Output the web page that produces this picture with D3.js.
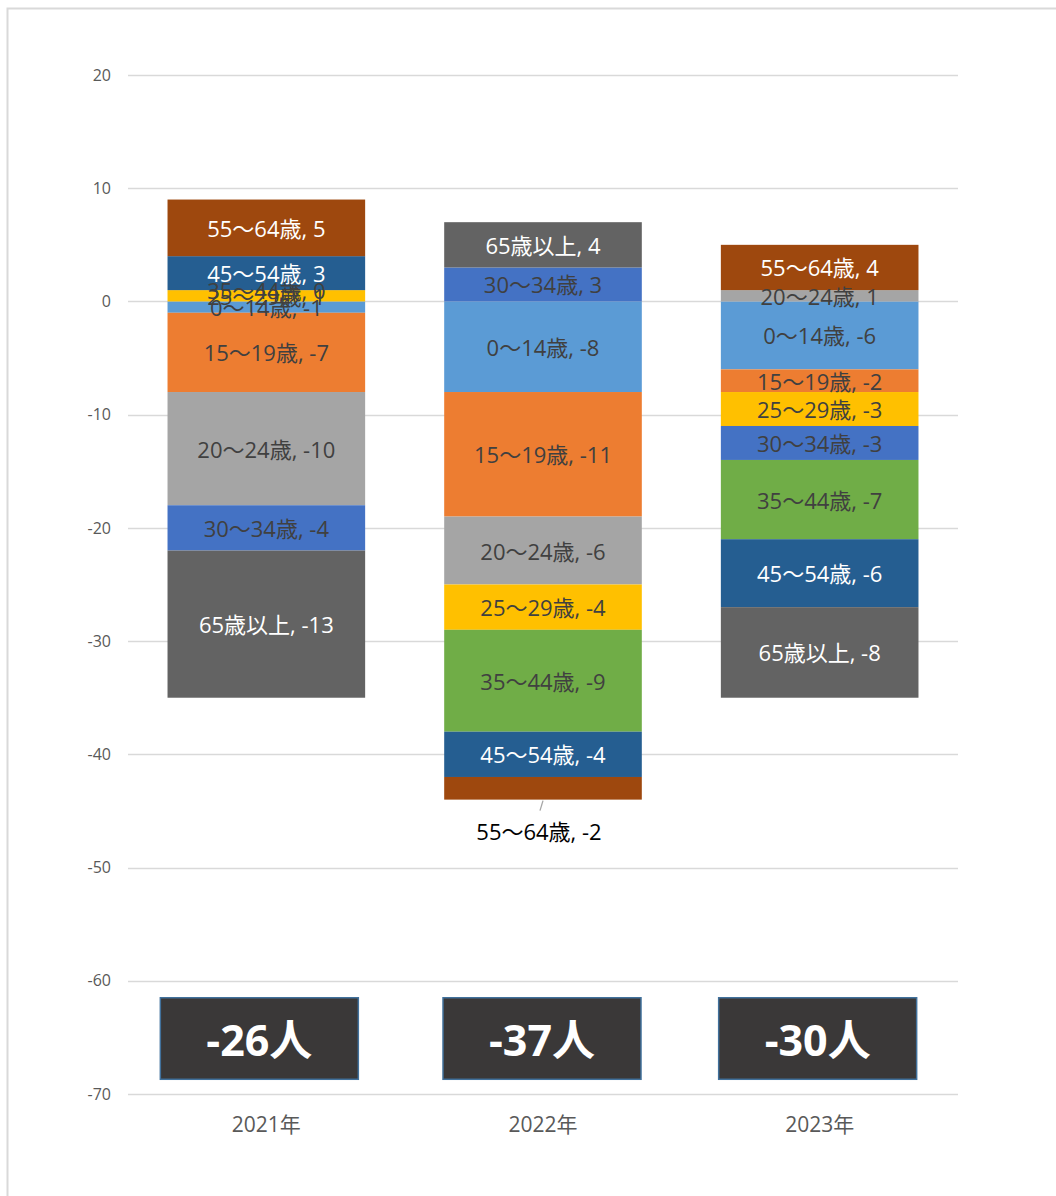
<!DOCTYPE html>
<html><head><meta charset="utf-8">
<script src="https://cdn.jsdelivr.net/npm/d3@7"></script>
<style>
html,body{margin:0;padding:0;background:#fff;}
svg{display:block;font-family:"Open Sans","Noto Sans CJK JP",sans-serif;}
</style></head>
<body>
<script>
const years = ["2021年", "2022年", "2023年"];
const seriesNames = ["0～14歳", "15～19歳", "20～24歳", "25～29歳", "30～34歳", "35～44歳", "45～54歳", "55～64歳", "65歳以上"];
const v0_14 = [-1, -8, -6];
const v15_19 = [-7, -11, -2];
const v20_24 = [-10, -6, 1];
const v25_29 = [1, -4, -3];
const v30_34 = [-4, 3, -3];
const v35_44 = [0, -9, -7];
const v45_54 = [3, -4, -6];
const v55_64 = [5, -2, 4];
const v65 = [-13, 4, -8];
const yTicks = [20, 10, 0, -10, -20, -30, -40, -50, -60, -70];
const colors = ["#5B9BD5", "#ED7D31", "#A5A5A5", "#FFC000", "#4472C4", "#70AD47", "#255E91", "#9E480E", "#636363"];
const labelColors = ["#404040", "#404040", "#404040", "#404040", "#404040", "#404040", "#ffffff", "#ffffff", "#ffffff"];

const seriesValues = [v0_14, v15_19, v20_24, v25_29, v30_34, v35_44, v45_54, v55_64, v65];
const table = years.map((yr, i) => {
  const row = {year: yr};
  seriesNames.forEach((s, k) => row[s] = seriesValues[k][i]);
  return row;
});

// Excel-like diverging stack: zeros sit at the top of the positive stack
function excelDiverging(series, order) {
  const n = series.length;
  if (!(n > 0)) return;
  for (let j = 0, m = series[order[0]].length; j < m; ++j) {
    let yp = 0, yn = 0;
    for (let i = 0; i < n; ++i) {
      const d = series[order[i]][j];
      const dy = d[1] - d[0];
      if (dy > 0) { d[0] = yp; d[1] = yp += dy; }
      else if (dy < 0) { d[1] = yn; d[0] = yn += dy; }
      else { d[0] = yp; d[1] = yp; }
    }
  }
}
const stacked = d3.stack().keys(seriesNames).offset(excelDiverging)(table);

const W = 1056, H = 1196;
const svg = d3.select("body").append("svg").attr("width", W).attr("height", H);

// frame
svg.append("rect").attr("x", 7.5).attr("y", 8.5).attr("width", 1200).attr("height", 1400)
  .attr("fill", "none").attr("stroke", "#d9d9d9").attr("stroke-width", 2);

const y = d3.scaleLinear().domain([-70, 20]).range([1094, 75]);
const x = d3.scaleBand().domain(years).range([128, 958]).padding(0);
const barW = x.bandwidth() / 1.4;
const cx = d => x(d) + x.bandwidth() / 2;

// gridlines
svg.append("g").selectAll("line").data(yTicks).join("line")
  .attr("x1", 128).attr("x2", 958)
  .attr("y1", d => Math.round(y(d)) + 0.5).attr("y2", d => Math.round(y(d)) + 0.5)
  .attr("stroke", "#d9d9d9").attr("stroke-width", 1.3);

// y axis labels
const yAxis = d3.axisLeft(y).tickValues(yTicks).tickSize(0).tickPadding(0).tickFormat(d => String(d));
const gy = svg.append("g").attr("transform", "translate(111,0)").call(yAxis);
gy.select(".domain").remove();
gy.selectAll("text").attr("fill", "#595959").style("font-size", "16px")
  .attr("font-family", "\"Open Sans\",\"Noto Sans CJK JP\",sans-serif");

// bars
const gs = svg.append("g").selectAll("g").data(stacked).join("g")
  .attr("fill", (d, i) => colors[i]);
gs.selectAll("rect").data(d => d).join("rect")
  .attr("x", d => cx(d.data.year) - barW / 2)
  .attr("width", barW)
  .attr("y", d => y(d[1]))
  .attr("height", d => y(d[0]) - y(d[1]));

// labels
const labG = svg.append("g");
stacked.forEach((s, k) => {
  s.forEach(d => {
    const val = d.data[s.key];
    const text = s.key + ", " + val;
    let tx = cx(d.data.year), ty = y((d[0] + d[1]) / 2);
    let fill = labelColors[k];
    if (s.key === "55～64歳" && d.data.year === "2022年") {
      // label moved outside with a leader line
      const bottom = y(d[0]);
      labG.append("line").attr("x1", tx).attr("y1", bottom + 1).attr("x2", tx - 3).attr("y2", bottom + 11)
        .attr("stroke", "#a6a6a6").attr("stroke-width", 1.3);
      ty = bottom + 31; tx = tx - 4; fill = "#000000";
    }
    labG.append("text").attr("x", tx).attr("y", ty)
      .attr("text-anchor", "middle").attr("dominant-baseline", "central")
      .attr("fill", fill).style("font-size", "22px").text(text);
  });
});

// total boxes
const boxTop = -61.5, boxBottom = -68.7;
const boxShift = [-7, -1, -2];
const totals = years.map((yr, i) => d3.sum(seriesValues, v => v[i]));
const tg = svg.append("g").selectAll("g").data(years).join("g");
tg.append("rect")
  .attr("x", (d, i) => cx(d) - 99 + boxShift[i])
  .attr("y", y(boxTop)).attr("width", 198).attr("height", y(boxBottom) - y(boxTop))
  .attr("fill", "#3A3838").attr("stroke", "#41719C").attr("stroke-width", 1.5);
tg.append("text")
  .attr("x", (d, i) => cx(d) + boxShift[i])
  .attr("y", y((boxTop + boxBottom) / 2) + 1)
  .attr("text-anchor", "middle").attr("dominant-baseline", "central")
  .attr("fill", "#ffffff").style("font-size", "43px").style("font-weight", "700")
  .text((d, i) => totals[i] + "人");

// x axis labels
const xAxis = d3.axisBottom(x).tickSize(0).tickPadding(0);
const gx = svg.append("g").attr("transform", "translate(0,1117)").call(xAxis);
gx.select(".domain").remove();
gx.selectAll("text").attr("fill", "#595959").style("font-size", "21px")
  .attr("font-family", "\"Open Sans\",\"Noto Sans CJK JP\",sans-serif").attr("dy", "0.7em");
</script>
</body></html>
